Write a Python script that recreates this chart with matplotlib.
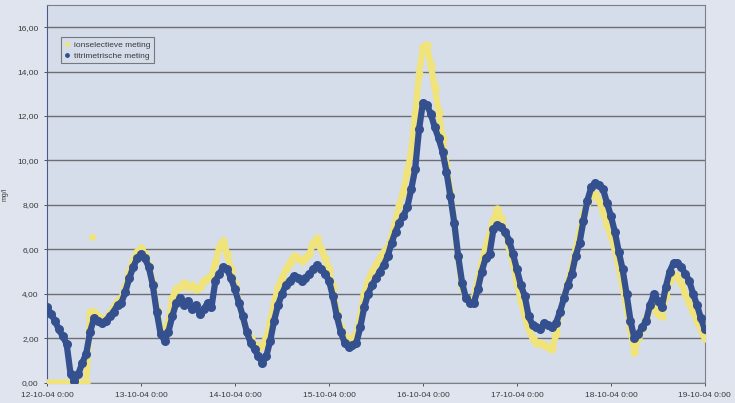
import numpy as np
import matplotlib
matplotlib.use("Agg")
import matplotlib.pyplot as plt

plt.rcParams["font.family"] = ["Liberation Sans", "DejaVu Sans"]

# hourly readings, hour 0 = 12-10-04 0:00
hours = np.arange(169)

ion = [0.0, 0.0, 0.0, 0.0, 0.0, 0.0, 0.0, 0.0, 0.0, 0.0, 0.0,
       3.2, 3.2, 3.0, 2.8, 2.9, 3.1, 3.4, 3.7, 3.8, 4.3, 5.0, 5.5, 5.9,
       6.05, 5.8, 5.3, 4.5, 3.3, 2.4, 2.3, 2.7, 3.8, 4.2, 4.3, 4.5,
       4.3, 4.4, 4.2, 4.3, 4.6, 4.7, 4.8, 5.4, 6.1, 6.4, 5.8, 5.1,
       4.4, 3.6, 3.0, 2.3, 2.0, 1.7, 1.5, 1.7, 2.0, 2.8, 3.6, 4.3,
       4.7, 5.1, 5.4, 5.7, 5.6, 5.5, 5.6, 5.8, 6.3, 6.5, 6.0, 5.6,
       5.1, 4.3, 3.2, 2.5, 2.1, 1.9, 2.0, 2.2, 3.0, 4.0, 4.6, 5.0,
       5.3, 5.6, 5.9, 6.1, 6.6, 7.3, 8.0, 8.6, 9.5, 10.4, 12.0, 13.9,
       15.1, 15.2, 14.3, 13.3, 12.2, 11.0, 9.8, 8.6, 7.2, 5.6, 4.3, 3.8,
       3.6, 3.8, 4.6, 5.4, 6.1, 6.7, 7.3, 7.8, 7.4, 6.8, 6.1, 5.4,
       4.5, 3.7, 3.0, 2.4, 2.0, 1.8, 1.8, 1.7, 1.6, 1.5, 2.2, 3.2,
       3.8, 4.5, 5.2, 6.0, 6.8, 7.6, 8.1, 8.4, 8.5, 8.2, 7.7, 7.1,
       6.6, 6.0, 5.2, 4.3, 3.4, 2.4, 1.4, 2.0, 2.4, 2.9, 3.3, 3.5,
       3.1, 3.0, 3.9, 4.6, 4.9, 4.8, 4.5, 4.0, 3.6, 3.2, 2.8, 2.4, 2.0]

titr = [3.4, 3.1, 2.8, 2.4, 2.1, 1.75, 0.4, 0.1, 0.4, 0.9, 1.3, 2.3,
        2.9, 2.8, 2.7, 2.8, 3.0, 3.2, 3.5, 3.6, 4.1, 4.7, 5.2, 5.6,
        5.8, 5.6, 5.2, 4.4, 3.2, 2.2, 1.9, 2.3, 3.0, 3.6, 3.8, 3.5,
        3.7, 3.3, 3.5, 3.1, 3.3, 3.6, 3.4, 4.6, 4.9, 5.2, 5.1, 4.7,
        4.2, 3.6, 3.0, 2.3, 1.8, 1.5, 1.2, 0.9, 1.2, 1.9, 2.8, 3.5,
        4.0, 4.4, 4.6, 4.8, 4.7, 4.6, 4.7, 4.9, 5.1, 5.3, 5.1, 4.9,
        4.6, 3.9, 3.0, 2.3, 1.8, 1.6, 1.7, 1.8, 2.5, 3.4, 4.0, 4.4,
        4.7, 5.0, 5.3, 5.7, 6.3, 6.8, 7.2, 7.5, 7.9, 8.7, 9.6, 11.4,
        12.6, 12.5, 12.1, 11.5, 11.0, 10.4, 9.5, 8.4, 7.2, 5.7, 4.5, 3.8,
        3.6, 3.6, 4.2, 5.0, 5.6, 5.8, 6.9, 7.1, 7.0, 6.8, 6.4, 5.8,
        5.1, 4.4, 3.9, 3.0, 2.6, 2.5, 2.4, 2.7, 2.6, 2.5, 2.7, 3.2,
        3.8, 4.4, 4.9, 5.7, 6.3, 7.3, 8.2, 8.8, 9.0, 8.9, 8.7, 8.1,
        7.5, 6.8, 5.9, 5.1, 4.0, 2.8, 2.0, 2.2, 2.5, 2.8, 3.5, 4.0,
        3.7, 3.4, 4.3, 5.0, 5.4, 5.4, 5.2, 4.9, 4.6, 4.0, 3.5, 2.9, 2.4]

# single stray ion-selective readings
ion_stray_h = [11.5]
ion_stray = [6.55]

tick_hours = [0, 24, 48, 72, 96, 120, 144, 168]
tick_labels = ["12-10-04 0:00", "13-10-04 0:00", "14-10-04 0:00", "15-10-04 0:00",
               "16-10-04 0:00", "17-10-04 0:00", "18-10-04 0:00", "19-10-04 0:00"]
y_ticks = [0, 2, 4, 6, 8, 10, 12, 14, 16]

yellow = "#efe37a"
blue = "#34508f"

fig = plt.figure(figsize=(7.35, 4.03), dpi=100, facecolor="#dfe4ee")
ax = fig.add_axes([0.064, 0.05, 0.895, 0.938])
ax.set_facecolor("#d6ddea")

ax.plot(hours, ion, color=yellow, lw=4.5, marker="o", ms=6, mew=0,
        solid_capstyle="round", solid_joinstyle="round", zorder=3,
        label="ionselectieve meting")
ax.plot(ion_stray_h, ion_stray, ls="none", marker="o", ms=5, mew=0,
        color=yellow, zorder=3)
ax.plot(hours, titr, color=blue, lw=4.5, marker="o", ms=6.5, mew=0,
        solid_capstyle="round", solid_joinstyle="round", zorder=4,
        label="titrimetrische meting")

ax.set_xlim(0, 168)
ax.set_ylim(0, 17)
ax.set_yticks(y_ticks)
ax.set_yticklabels([f"{v:.2f}".replace(".", ",") for v in y_ticks])
ax.set_xticks(tick_hours)
ax.set_xticklabels(tick_labels)
ax.tick_params(labelsize=6, colors="#3a3a3a", length=2.5, width=0.6)
ax.tick_params(axis="x", pad=4)
ax.grid(axis="y", color="#6e6e72", lw=1.0, zorder=1)
ax.set_axisbelow(True)
for side in ["left", "bottom", "right", "top"]:
    ax.spines[side].set_color("#7c7f88")
    ax.spines[side].set_linewidth(0.8)
ax.spines["left"].set_color("#4a5a8a")

ax.set_ylabel("mg/l", fontsize=5, color="#3a3a3a", labelpad=6)

leg = ax.legend(loc="upper left", bbox_to_anchor=(0.015, 0.925), fontsize=6,
                frameon=True, fancybox=False, handlelength=0.6,
                handletextpad=0.5, borderpad=0.45, labelspacing=0.35)
leg.get_frame().set_edgecolor("#606060")
leg.get_frame().set_linewidth(0.8)
leg.get_frame().set_facecolor("#d6ddea")
for h in leg.legend_handles:
    h.set_linestyle("none")
    h.set_markersize(3.5)
for t in leg.get_texts():
    t.set_color("#3a3a3a")

fig.savefig("out.png", dpi=100, facecolor=fig.get_facecolor())
